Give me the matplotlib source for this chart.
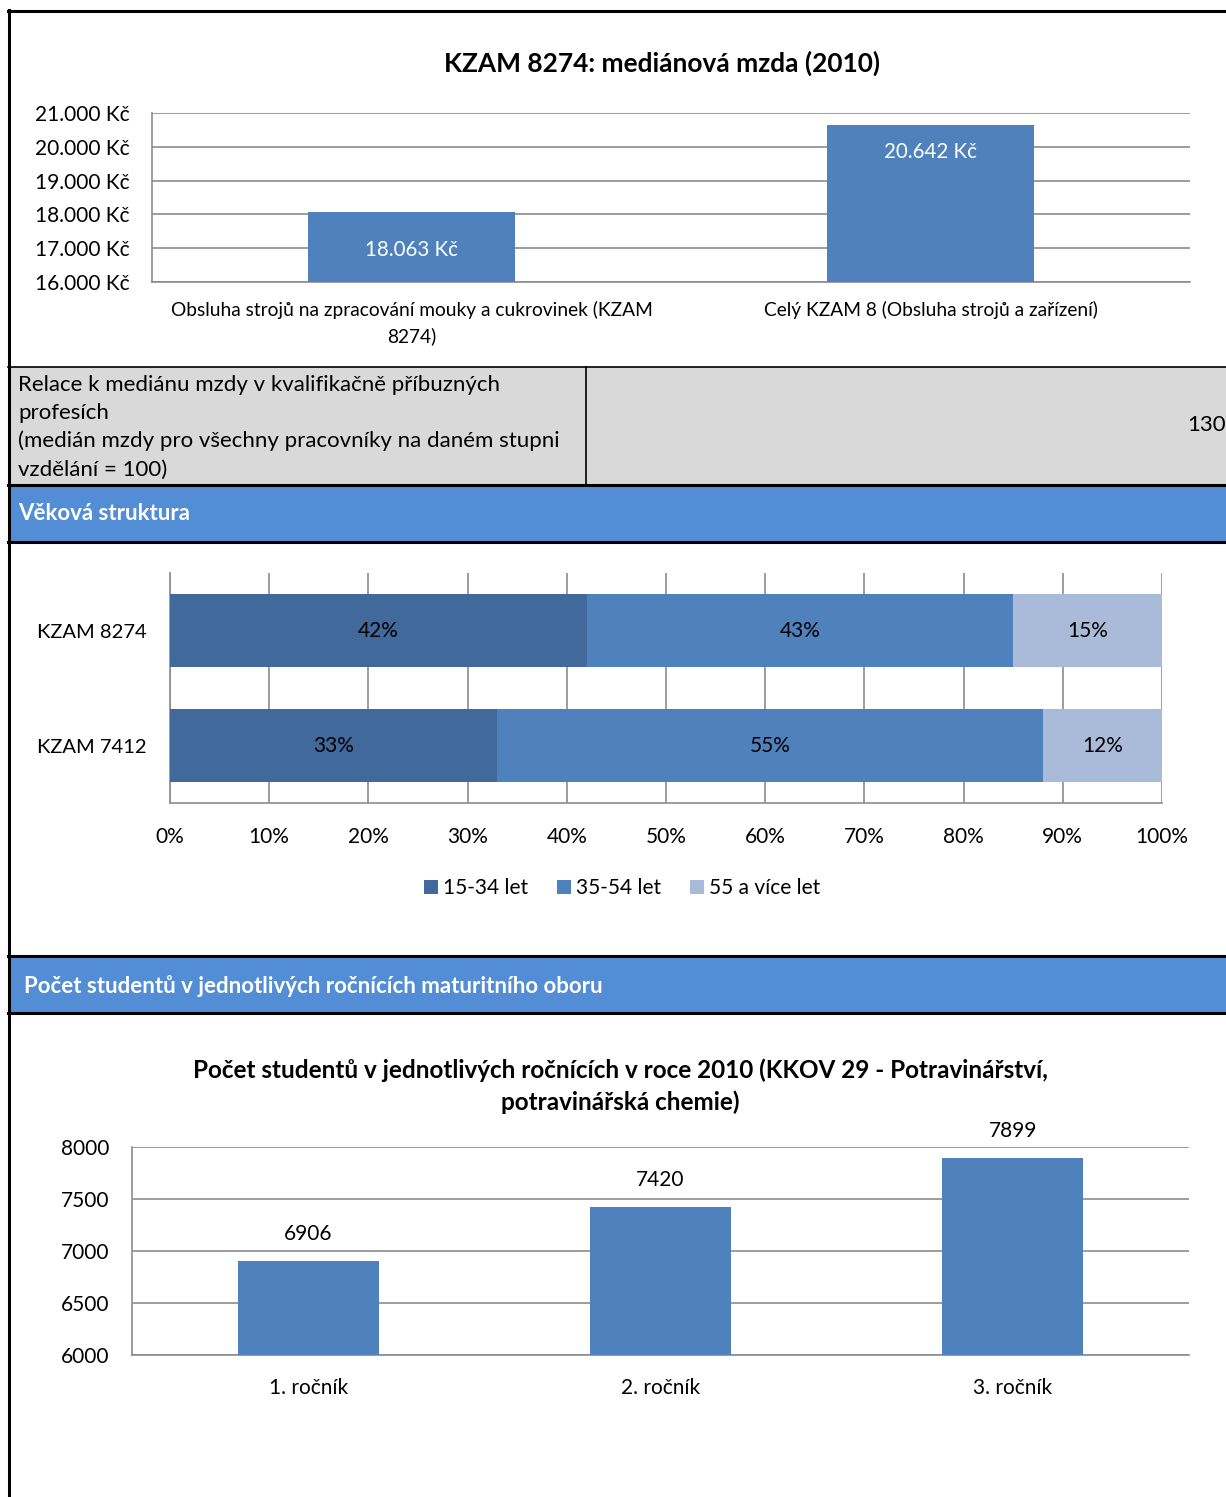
import matplotlib
matplotlib.use('Agg')
import matplotlib.pyplot as plt
import numpy as np
from matplotlib.patches import Rectangle

plt.rcParams['font.family'] = ['Lato', 'DejaVu Sans']

W, H = 1226, 1497

# ---- data ----
wage_cats = ["Obsluha strojů na zpracování mouky a cukrovinek (KZAM\n8274)",
             "Celý KZAM 8 (Obsluha strojů a zařízení)"]
wage_vals = [18063, 20642]
wage_ticks = [16000, 17000, 18000, 19000, 20000, 21000]

relace_text = ("Relace k mediánu mzdy v kvalifikačně příbuzných\nprofesích\n"
               "(medián mzdy pro všechny pracovníky na daném stupni\nvzdělání = 100)")
relace_val = "130"

age_cats = ["KZAM 8274", "KZAM 7412"]
age_groups = ["15-34 let", "35-54 let", "55 a více let"]
age_vals = np.array([[42, 43, 15],
                     [33, 55, 12]])

stud_cats = ["1. ročník", "2. ročník", "3. ročník"]
stud_vals = [6906, 7420, 7899]
stud_ticks = [6000, 6500, 7000, 7500, 8000]

BLUE = '#4F81BD'
AGE_COLORS = ['#41699C', '#4F81BD', '#A9BBD9']
HEAD = '#538DD5'
GRID = '#8C8C8C'
FS = 15


def box(x0, y0, x1, y1):
    return [x0 / W, 1 - y1 / H, (x1 - x0) / W, (y1 - y0) / H]


fig = plt.figure(figsize=(W / 100, H / 100), dpi=100)

# ---- background sheet (cells, headers, borders) ----
bg = fig.add_axes([0, 0, 1, 1], zorder=0)
bg.set_xlim(0, W)
bg.set_ylim(H, 0)
bg.axis('off')

bg.add_patch(Rectangle((10, 367), W - 10, 118, color='#D9D9D9', lw=0))
bg.add_patch(Rectangle((10, 486), W - 10, 55, color=HEAD, lw=0))
bg.add_patch(Rectangle((10, 957), W - 10, 56, color=HEAD, lw=0))

bg.plot([8, W], [10.5, 10.5], color='black', lw=2.2)
bg.plot([9, 9], [10, H], color='black', lw=2.2)
bg.plot([8, W], [366.5, 366.5], color='black', lw=1.2)
bg.plot([585.5, 585.5], [367, 485], color='black', lw=1.2)
for yy in [485, 541.5, 956, 1013]:
    bg.plot([8, W], [yy, yy], color='black', lw=2.2)

bg.text(18, 427, relace_text, fontsize=16, va='center', ha='left', linespacing=1.5)
bg.text(1226, 425, relace_val, fontsize=16, va='center', ha='right')
bg.text(18, 513, "Věková struktura", fontsize=16, fontweight='bold',
        color='white', va='center')
bg.text(24, 986, "Počet studentů v jednotlivých ročnících maturitního oboru",
        fontsize=16, fontweight='bold', color='white', va='center')


def style_axes(ax):
    ax.set_facecolor('none')
    for s in ['top', 'right']:
        ax.spines[s].set_visible(False)
    for s in ['left', 'bottom']:
        ax.spines[s].set_color(GRID)
        ax.spines[s].set_linewidth(1.2)
    ax.tick_params(length=0)


# ---- chart 1: median wage ----
ax1 = fig.add_axes(box(152, 113, 1190, 282), zorder=2)
style_axes(ax1)
x1 = np.arange(len(wage_cats))
ax1.bar(x1, np.array(wage_vals) - wage_ticks[0], bottom=wage_ticks[0], width=0.4,
        color=BLUE, zorder=3)
ax1.set_xlim(-0.5, len(wage_cats) - 0.5)
ax1.set_ylim(wage_ticks[0], wage_ticks[-1])
ax1.set_yticks(wage_ticks)
ax1.set_yticklabels([f"{v:,} Kč".replace(',', '.') for v in wage_ticks], fontsize=FS)
ax1.set_xticks(x1)
ax1.set_xticklabels(wage_cats, fontsize=13.8, linespacing=1.55)
ax1.tick_params(axis='y', pad=16)
ax1.tick_params(axis='x', pad=13.5)
ax1.grid(axis='y', color=GRID, lw=1.2)
ax1.set_axisbelow(True)
lbl_pad = [38, 27]
for xi, v, p in zip(x1, wage_vals, lbl_pad):
    ax1.annotate(f"{v:,} Kč".replace(',', '.'), (xi, v), xytext=(0, -p * 0.72),
                 textcoords='offset points', ha='center', va='center',
                 color='white', fontsize=14.8, zorder=4)
fig.text(662 / W, 1 - 63 / H, "KZAM 8274: mediánová mzda (2010)", fontsize=18.9,
         fontweight='bold', ha='center', va='center')

# ---- chart 2: age structure ----
ax2 = fig.add_axes(box(170, 573, 1162, 803), zorder=2)
style_axes(ax2)
y2 = np.arange(len(age_cats))
left = np.zeros(len(age_cats))
for g, name in enumerate(age_groups):
    ax2.barh(y2, age_vals[:, g], left=left, height=0.64, color=AGE_COLORS[g],
             label=name, zorder=3)
    for yi, l, v in zip(y2, left, age_vals[:, g]):
        ax2.text(l + v / 2, yi, f"{v}%", ha='center', va='center', fontsize=FS,
                 color='black', zorder=4)
    left += age_vals[:, g]
ax2.set_xlim(0, 100)
ax2.set_ylim(len(age_cats) - 0.5, -0.5)
ax2.set_xticks(np.arange(0, 101, 10))
ax2.set_xticklabels([f"{t}%" for t in range(0, 101, 10)], fontsize=FS)
ax2.set_yticks(y2)
ax2.set_yticklabels(age_cats, fontsize=14.5)
ax2.tick_params(axis='x', pad=17.5)
ax2.tick_params(axis='y', pad=17)
ax2.grid(axis='x', color=GRID, lw=1.2)
ax2.set_axisbelow(True)
ax2.legend(loc='center', bbox_to_anchor=(622 / W, 1 - 888 / H),
           bbox_transform=fig.transFigure, ncol=3, frameon=False, fontsize=FS,
           handlelength=0.65, handleheight=0.65, handletextpad=0.25, columnspacing=1.4)

# ---- chart 3: students ----
ax3 = fig.add_axes(box(132, 1147, 1189, 1355), zorder=2)
style_axes(ax3)
x3 = np.arange(len(stud_cats))
ax3.bar(x3, np.array(stud_vals) - stud_ticks[0], bottom=stud_ticks[0], width=0.4,
        color=BLUE, zorder=3)
ax3.set_xlim(-0.5, len(stud_cats) - 0.5)
ax3.set_ylim(stud_ticks[0], stud_ticks[-1])
ax3.set_yticks(stud_ticks)
ax3.set_yticklabels([str(t) for t in stud_ticks], fontsize=FS)
ax3.set_xticks(x3)
ax3.set_xticklabels(stud_cats, fontsize=FS)
ax3.tick_params(axis='y', pad=16.5)
ax3.tick_params(axis='x', pad=16.5)
ax3.grid(axis='y', color=GRID, lw=1.2)
ax3.set_axisbelow(True)
for xi, v in zip(x3, stud_vals):
    ax3.annotate(str(v), (xi, v), xytext=(0, 27 * 0.72), textcoords='offset points',
                 ha='center', va='center', fontsize=FS, clip_on=False)
fig.text(620 / W, 1 - 1086 / H,
         "Počet studentů v jednotlivých ročnících v roce 2010 (KKOV 29 - Potravinářství,\n"
         "potravinářská chemie)", fontsize=17.5, fontweight='bold', ha='center',
         va='center', linespacing=1.4)

fig.savefig('out.png', dpi=100)
